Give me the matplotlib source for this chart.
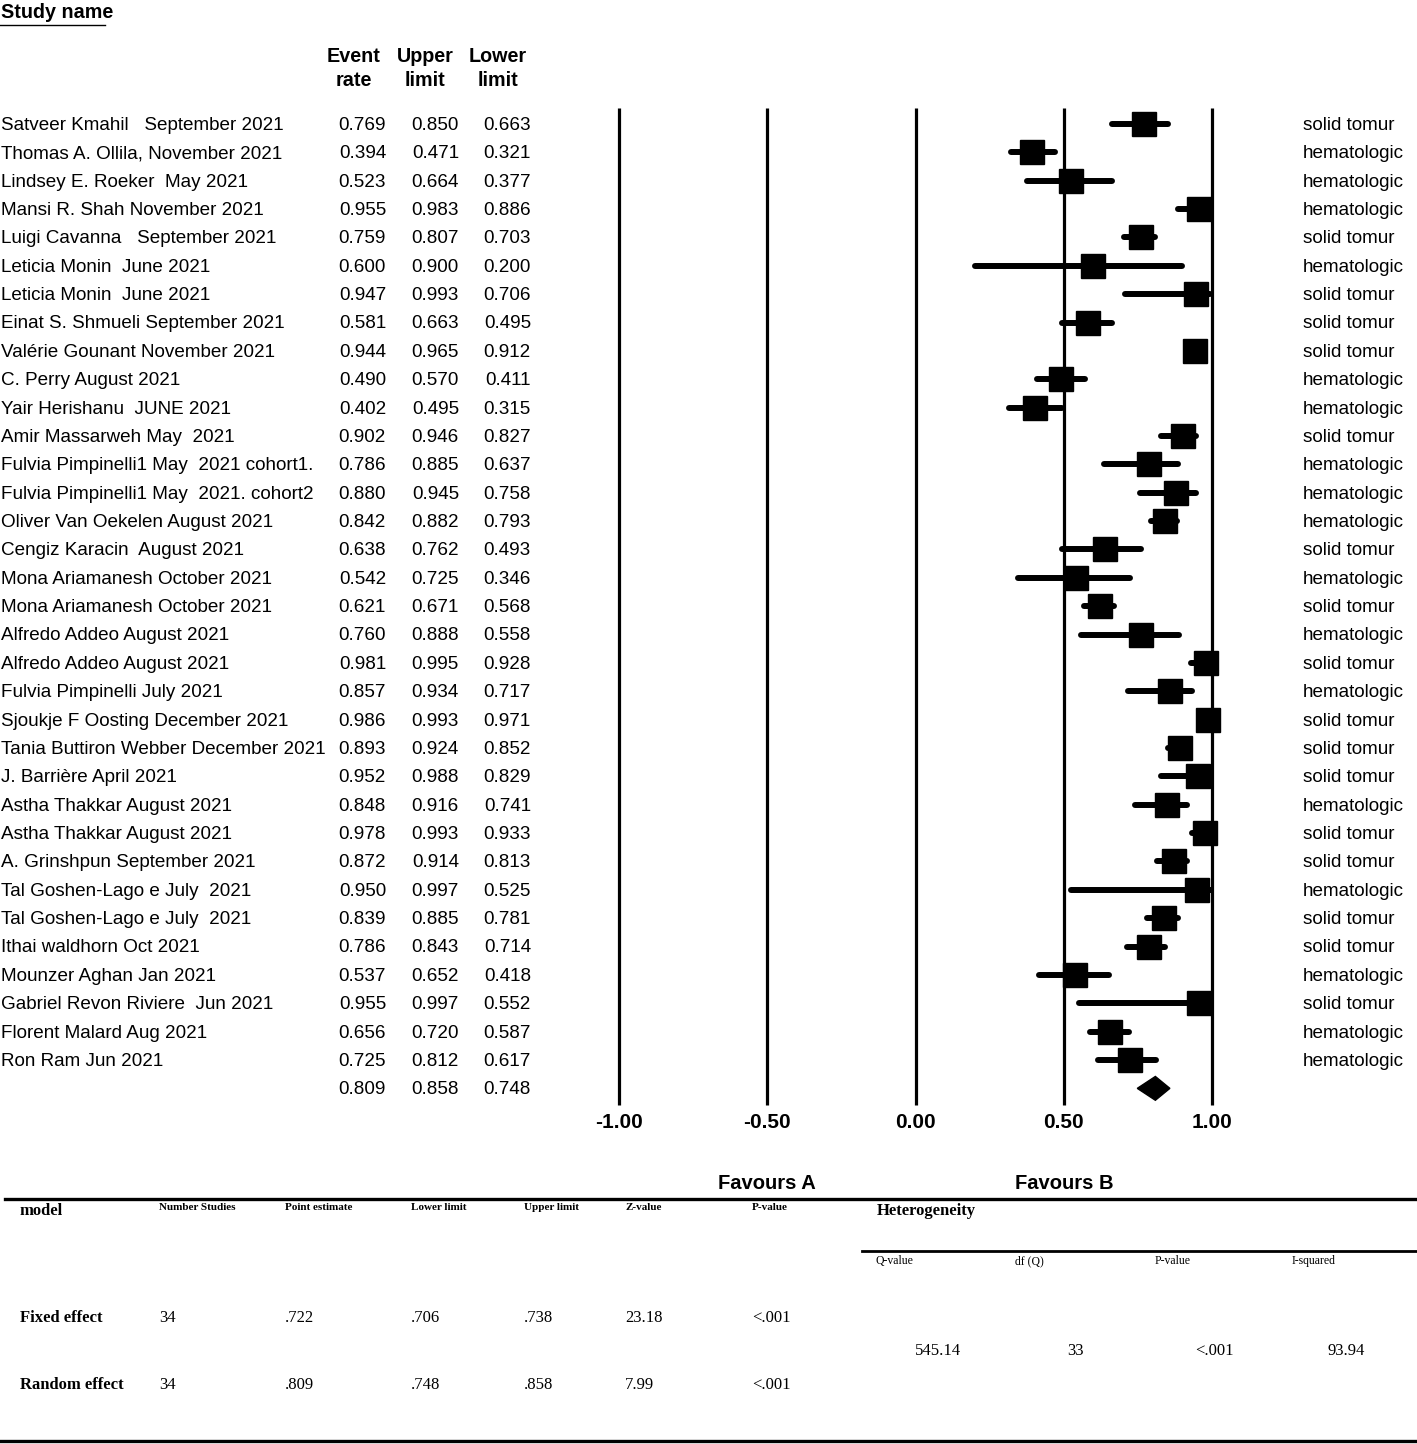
import matplotlib
matplotlib.use("Agg")
import matplotlib.pyplot as plt
import matplotlib.transforms as mtransforms

plt.rcParams["font.family"] = ["Liberation Sans", "DejaVu Sans"]

studies = [
    "Satveer Kmahil   September 2021",
    "Thomas A. Ollila, November 2021",
    "Lindsey E. Roeker  May 2021",
    "Mansi R. Shah November 2021",
    "Luigi Cavanna   September 2021",
    "Leticia Monin  June 2021",
    "Leticia Monin  June 2021",
    "Einat S. Shmueli September 2021",
    "Valérie Gounant November 2021",
    "C. Perry August 2021",
    "Yair Herishanu  JUNE 2021",
    "Amir Massarweh May  2021",
    "Fulvia Pimpinelli1 May  2021 cohort1.",
    "Fulvia Pimpinelli1 May  2021. cohort2",
    "Oliver Van Oekelen August 2021",
    "Cengiz Karacin  August 2021",
    "Mona Ariamanesh October 2021",
    "Mona Ariamanesh October 2021",
    "Alfredo Addeo August 2021",
    "Alfredo Addeo August 2021",
    "Fulvia Pimpinelli July 2021",
    "Sjoukje F Oosting December 2021",
    "Tania Buttiron Webber December 2021",
    "J. Barrière April 2021",
    "Astha Thakkar August 2021",
    "Astha Thakkar August 2021",
    "A. Grinshpun September 2021",
    "Tal Goshen-Lago e July  2021",
    "Tal Goshen-Lago e July  2021",
    "Ithai waldhorn Oct 2021",
    "Mounzer Aghan Jan 2021",
    "Gabriel Revon Riviere  Jun 2021",
    "Florent Malard Aug 2021",
    "Ron Ram Jun 2021",
]
event_rate = [0.769, 0.394, 0.523, 0.955, 0.759, 0.600, 0.947, 0.581, 0.944, 0.490,
              0.402, 0.902, 0.786, 0.880, 0.842, 0.638, 0.542, 0.621, 0.760, 0.981,
              0.857, 0.986, 0.893, 0.952, 0.848, 0.978, 0.872, 0.950, 0.839, 0.786,
              0.537, 0.955, 0.656, 0.725]
upper = [0.850, 0.471, 0.664, 0.983, 0.807, 0.900, 0.993, 0.663, 0.965, 0.570,
         0.495, 0.946, 0.885, 0.945, 0.882, 0.762, 0.725, 0.671, 0.888, 0.995,
         0.934, 0.993, 0.924, 0.988, 0.916, 0.993, 0.914, 0.997, 0.885, 0.843,
         0.652, 0.997, 0.720, 0.812]
lower = [0.663, 0.321, 0.377, 0.886, 0.703, 0.200, 0.706, 0.495, 0.912, 0.411,
         0.315, 0.827, 0.637, 0.758, 0.793, 0.493, 0.346, 0.568, 0.558, 0.928,
         0.717, 0.971, 0.852, 0.829, 0.741, 0.933, 0.813, 0.525, 0.781, 0.714,
         0.418, 0.552, 0.587, 0.617]
tumour_type = ["solid tomur", "hematologic", "hematologic", "hematologic", "solid tomur",
               "hematologic", "solid tomur", "solid tomur", "solid tomur", "hematologic",
               "hematologic", "solid tomur", "hematologic", "hematologic", "hematologic",
               "solid tomur", "hematologic", "solid tomur", "hematologic", "solid tomur",
               "hematologic", "solid tomur", "solid tomur", "solid tomur", "hematologic",
               "solid tomur", "solid tomur", "hematologic", "solid tomur", "solid tomur",
               "hematologic", "solid tomur", "hematologic", "hematologic"]
pooled = (0.809, 0.858, 0.748)  # event rate, upper, lower
x_ticks = [-1.0, -0.5, 0.0, 0.5, 1.0]

table_cols = ["Number Studies", "Point estimate", "Lower limit", "Upper limit", "Z-value", "P-value"]
fixed_row = ["34", ".722", ".706", ".738", "23.18", "<.001"]
random_row = ["34", ".809", ".748", ".858", "7.99", "<.001"]
het_cols = ["Q-value", "df (Q)", "P-value", "I-squared"]
het_vals = ["545.14", "33", "<.001", "93.94"]

W, H = 1417, 1444
fig = plt.figure(figsize=(W / 100, H / 100), dpi=100)

# background axes in pixel units for the static text and rules
bg = fig.add_axes([0, 0, 1, 1])
bg.set_xlim(0, W)
bg.set_ylim(H, 0)
bg.axis("off")

# forest axes: -1 -> px 619, 1 -> px 1212; row 0 -> px 124, row 33 -> px 1060
ax = fig.add_axes([0, 0, 1, 1])
ax.patch.set_alpha(0)
sx = (1212 - 619) / 2.0
ax.set_xlim(-1 - 619 / sx, 1 + (W - 1212) / sx)
sy = (1060 - 124) / 33.0
ax.set_ylim((H - 124) / sy, -124 / sy)
ax.axis("off")

n = len(studies)
rows = list(range(n))
pool_row = n

ax.vlines(x_ticks, (108 - 124) / sy, (1105 - 124) / sy, color="black", lw=2.3)
ax.hlines(rows, lower, upper, color="black", lw=4.3, capstyle="round")
ax.plot(event_rate, rows, "s", color="black", markersize=17, markeredgewidth=1,
        markeredgecolor="black", linestyle="none")
est, hi, lo = pooled
dh = 0.42
ax.fill([lo, est, hi, est], [pool_row, pool_row - dh, pool_row, pool_row + dh], color="black")

for t in x_ticks:
    ax.text(t, (1122 - 124) / sy, f"{t:.2f}", ha="center", va="center",
            fontsize=15, fontweight="bold")
ax.text(-0.5, (1184 - 124) / sy, "Favours A", ha="center", va="center", fontsize=14.5, fontweight="bold")
ax.text(0.5, (1184 - 124) / sy, "Favours B", ha="center", va="center", fontsize=14.5, fontweight="bold")

# row text: x in pixels, y in rows
tr = mtransforms.blended_transform_factory(bg.transData, ax.transData)
fs = 13.6
for i in rows:
    ax.text(1, i + 0.05, studies[i], transform=tr, ha="left", va="center", fontsize=fs)
    ax.text(386, i + 0.05, f"{event_rate[i]:.3f}", transform=tr, ha="right", va="center", fontsize=fs)
    ax.text(459, i + 0.05, f"{upper[i]:.3f}", transform=tr, ha="right", va="center", fontsize=fs)
    ax.text(531, i + 0.05, f"{lower[i]:.3f}", transform=tr, ha="right", va="center", fontsize=fs)
    ax.text(1303, i + 0.05, tumour_type[i], transform=tr, ha="left", va="center", fontsize=fs)
ax.text(386, pool_row + 0.05, f"{est:.3f}", transform=tr, ha="right", va="center", fontsize=fs)
ax.text(459, pool_row + 0.05, f"{hi:.3f}", transform=tr, ha="right", va="center", fontsize=fs)
ax.text(531, pool_row + 0.05, f"{lo:.3f}", transform=tr, ha="right", va="center", fontsize=fs)

# headers
bg.text(1, 12, "Study name", ha="left", va="center", fontsize=14.2, fontweight="bold")
bg.plot([0, 105], [25, 25], color="black", lw=1)
for xc, (a, b) in zip([354, 425, 498], [("Event", "rate"), ("Upper", "limit"), ("Lower", "limit")]):
    bg.text(xc, 56, a, ha="center", va="center", fontsize=14.2, fontweight="bold")
    bg.text(xc, 81, b, ha="center", va="center", fontsize=14.2, fontweight="bold")

# bottom table
serif = ["Liberation Serif", "DejaVu Serif"]
bg.plot([5, W], [1199, 1199], color="black", lw=2.4)
bg.plot([862, W], [1251, 1251], color="black", lw=2)
bg.plot([0, W], [1441, 1441], color="black", lw=2.4)

col_x = [159, 285, 411, 524, 625, 752]
bg.text(20, 1211, "model", family=serif, fontsize=12, fontweight="bold", va="center")
for x, c in zip(col_x, table_cols):
    bg.text(x, 1208, c, family=serif, fontsize=8, fontweight="bold", va="center")
bg.text(20, 1318, "Fixed effect", family=serif, fontsize=12, fontweight="bold", va="center")
bg.text(20, 1385, "Random effect", family=serif, fontsize=12, fontweight="bold", va="center")
for x, a, b in zip(col_x, fixed_row, random_row):
    bg.text(x, 1318, a, family=serif, fontsize=12, va="center")
    bg.text(x, 1385, b, family=serif, fontsize=12, va="center")

bg.text(877, 1211, "Heterogeneity", family=serif, fontsize=12, fontweight="bold", va="center")
for x, c in zip([875, 1015, 1155, 1292], het_cols):
    bg.text(x, 1261, c, family=serif, fontsize=8.5, va="center")
for x, v in zip([938, 1075, 1214, 1346], het_vals):
    bg.text(x, 1351, v, family=serif, fontsize=12, ha="center", va="center")

fig.savefig("out.png", dpi=100)
